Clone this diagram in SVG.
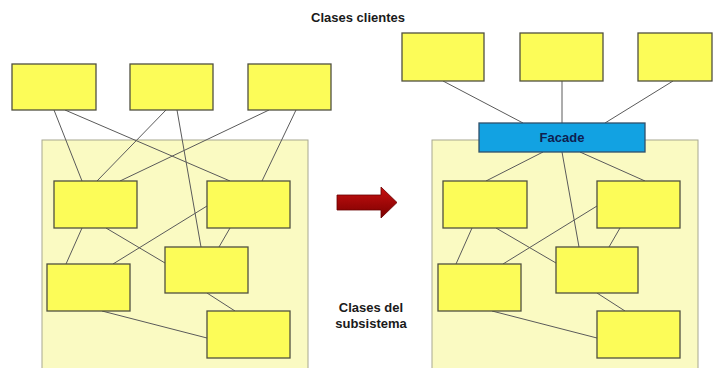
<svg xmlns="http://www.w3.org/2000/svg" width="713" height="368" viewBox="0 0 713 368">
<style>
.panel{fill:#FAFAC2;stroke:#A8A890;stroke-width:1}
.box{fill:#FCFC58;stroke:#505040;stroke-width:1.3}
.fac{fill:#12A2E2;stroke:#30506A;stroke-width:1.3}
.ln{stroke:#5A5A5A;stroke-width:1;fill:none}
.t{font-family:"Liberation Sans",Arial,sans-serif;font-weight:bold;font-size:13px;fill:#1A1A1A;text-anchor:middle}
</style>
<defs>
<linearGradient id="ar" x1="0" y1="0" x2="0" y2="1">
<stop offset="0" stop-color="#C81010"/>
<stop offset="1" stop-color="#7A0000"/>
</linearGradient>
</defs>
<rect width="713" height="368" fill="#FFFFFF"/>
<rect class="panel" x="42" y="140" width="266" height="240"/>
<rect class="panel" x="432" y="140" width="266" height="240"/>
<text class="t" x="358" y="22">Clases clientes</text>
<text class="t" x="371" y="312">Clases del</text>
<text class="t" x="371" y="328">subsistema</text>
<path id="arrow" d="M337,195 L381,195 L381,187 L397,202.5 L381,218 L381,210 L337,210 Z" fill="url(#ar)" stroke="#6A0000" stroke-width="0.8"/>
<g id="connectors">
<line class="ln" x1="54" y1="110" x2="82" y2="181"/>
<line class="ln" x1="65" y1="110" x2="230" y2="181"/>
<line class="ln" x1="166" y1="110" x2="97" y2="181"/>
<line class="ln" x1="177" y1="110" x2="201" y2="247"/>
<line class="ln" x1="269" y1="110" x2="120" y2="181"/>
<line class="ln" x1="296" y1="110" x2="262" y2="181"/>
<line class="ln" x1="82" y1="228" x2="66" y2="264"/>
<line class="ln" x1="106" y1="228" x2="165" y2="263"/>
<line class="ln" x1="207" y1="206" x2="113" y2="264"/>
<line class="ln" x1="230" y1="228" x2="219" y2="247"/>
<line class="ln" x1="207" y1="293" x2="235" y2="311"/>
<line class="ln" x1="102" y1="311" x2="207" y2="338"/>
<line class="ln" x1="443" y1="81" x2="523" y2="123"/>
<line class="ln" x1="562" y1="81" x2="562" y2="123"/>
<line class="ln" x1="673" y1="81" x2="605" y2="123"/>
<line class="ln" x1="543" y1="152" x2="486" y2="181"/>
<line class="ln" x1="562" y1="152" x2="579" y2="247"/>
<line class="ln" x1="580" y1="152" x2="645" y2="181"/>
<line class="ln" x1="472" y1="228" x2="456" y2="264"/>
<line class="ln" x1="496" y1="228" x2="556" y2="263"/>
<line class="ln" x1="597" y1="206" x2="503" y2="264"/>
<line class="ln" x1="620" y1="228" x2="609" y2="247"/>
<line class="ln" x1="597" y1="293" x2="625" y2="311"/>
<line class="ln" x1="492" y1="311" x2="597" y2="338"/>
</g>
<g id="L-client1"><rect class="box" x="12" y="64" width="84" height="46"/></g>
<g id="L-client2"><rect class="box" x="130" y="64" width="83" height="46"/></g>
<g id="L-client3"><rect class="box" x="248" y="64" width="83" height="46"/></g>
<g id="L-sub1"><rect class="box" x="54" y="181" width="83" height="47"/></g>
<g id="L-sub2"><rect class="box" x="207" y="181" width="83" height="47"/></g>
<g id="L-sub3"><rect class="box" x="47" y="264" width="83" height="47"/></g>
<g id="L-sub4"><rect class="box" x="165" y="247" width="83" height="46"/></g>
<g id="L-sub5"><rect class="box" x="207" y="311" width="83" height="47"/></g>
<g id="R-client1"><rect class="box" x="402" y="33" width="82" height="48"/></g>
<g id="R-client2"><rect class="box" x="520" y="33" width="83" height="48"/></g>
<g id="R-client3"><rect class="box" x="638" y="33" width="74" height="48"/></g>
<g id="R-facade"><rect class="fac" x="479" y="123" width="166" height="29"/><text x="562" y="142" font-family="Liberation Sans, Arial, sans-serif" font-weight="bold" font-size="13" fill="#0E2050" text-anchor="middle">Facade</text></g>
<g id="R-sub1"><rect class="box" x="443" y="181" width="84" height="47"/></g>
<g id="R-sub2"><rect class="box" x="597" y="181" width="83" height="47"/></g>
<g id="R-sub3"><rect class="box" x="438" y="264" width="83" height="47"/></g>
<g id="R-sub4"><rect class="box" x="556" y="247" width="82" height="46"/></g>
<g id="R-sub5"><rect class="box" x="597" y="311" width="83" height="47"/></g>
</svg>
